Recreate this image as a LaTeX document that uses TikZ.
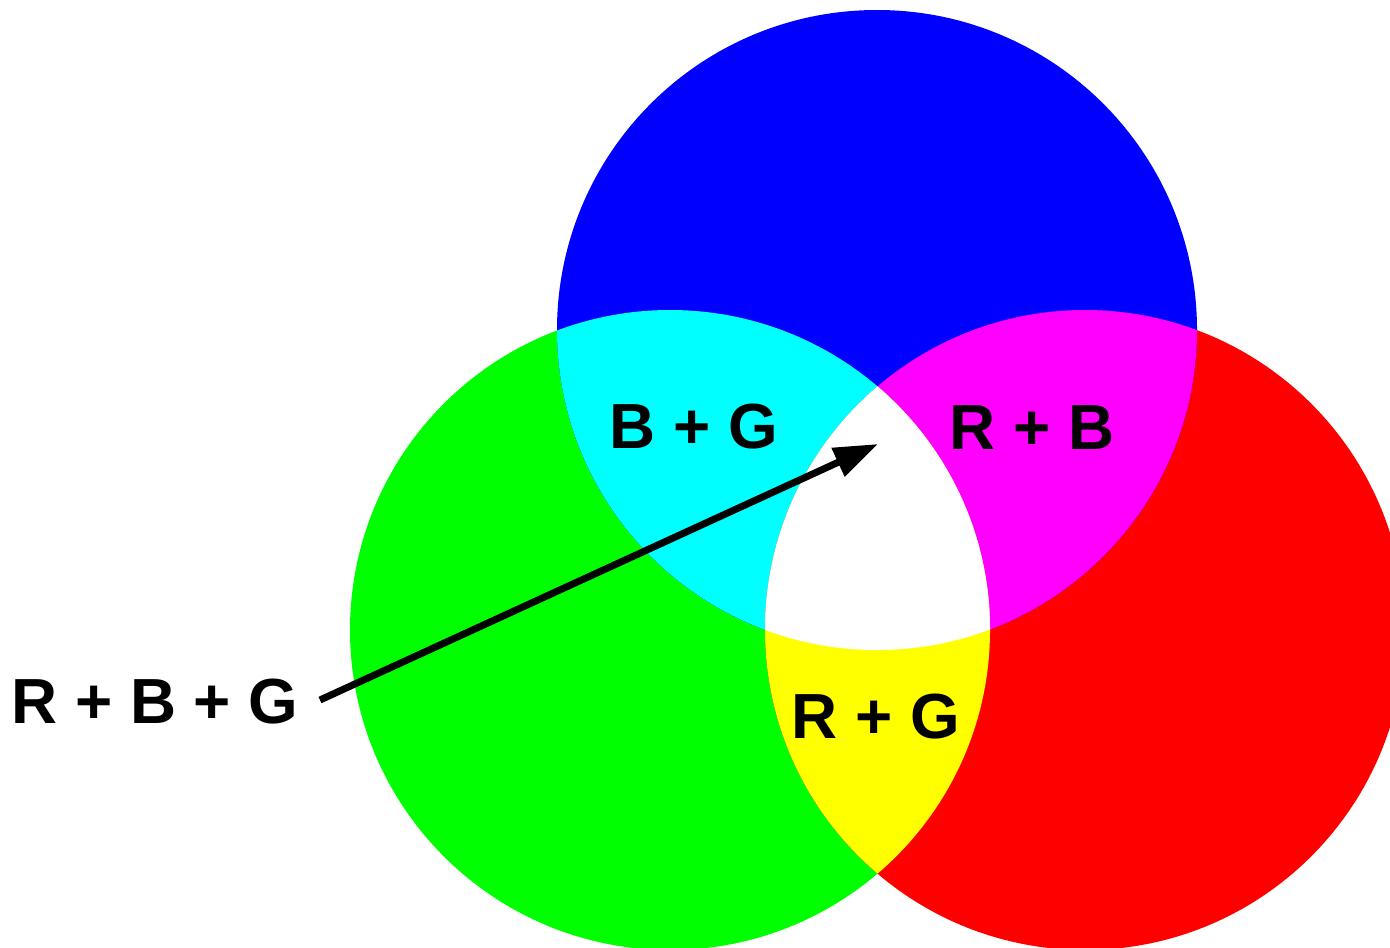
\documentclass[tikz,border=0pt]{standalone}
\usepackage{fontspec}
\setmainfont{Liberation Sans}
\usetikzlibrary{arrows.meta}
\definecolor{pBlue}{RGB}{0,0,255}
\definecolor{pGreen}{RGB}{0,255,0}
\definecolor{pRed}{RGB}{255,0,0}
\definecolor{pCyan}{RGB}{0,255,255}
\definecolor{pMagenta}{RGB}{255,0,255}
\definecolor{pYellow}{RGB}{255,255,0}
\begin{document}
\begin{tikzpicture}[x=1bp,y=-1bp,
  lbl/.style={font=\bfseries\fontsize{64}{76}\selectfont, inner sep=0pt, text=black}]
\useasboundingbox (0,0) rectangle (1390,947);
\clip (0,0) rectangle (1390,947);
\fill[white] (0,0) rectangle (1390,947);
\def\cB{(877,330) circle[radius=320bp]}
\def\cG{(670,630) circle[radius=320bp]}
\def\cR{(1085,630) circle[radius=320bp]}
\fill[pGreen] \cG;
\fill[pRed] \cR;
\fill[pBlue] \cB;
\begin{scope}
  \clip \cB;
  \fill[pCyan] \cG;
\end{scope}
\begin{scope}
  \clip \cB;
  \fill[pMagenta] \cR;
\end{scope}
\begin{scope}
  \clip \cG;
  \fill[pYellow] \cR;
\end{scope}
\begin{scope}
  \clip \cB;
  \clip \cG;
  \fill[white] \cR;
\end{scope}
\node[lbl] (bg) at (694,427) {B + G};
\node[lbl] (rb) at (1032,428) {R + B};
\node[lbl] (rg) at (876,717) {R + G};
\node[lbl] (rbg) at (155,702) {R + B + G};
\coordinate (tail) at (320,700);
\coordinate (tip) at (878,444);
\draw[line width=7bp, -{Triangle[length=44bp,width=30bp]}] (tail) -- (tip);
\end{tikzpicture}
\end{document}
